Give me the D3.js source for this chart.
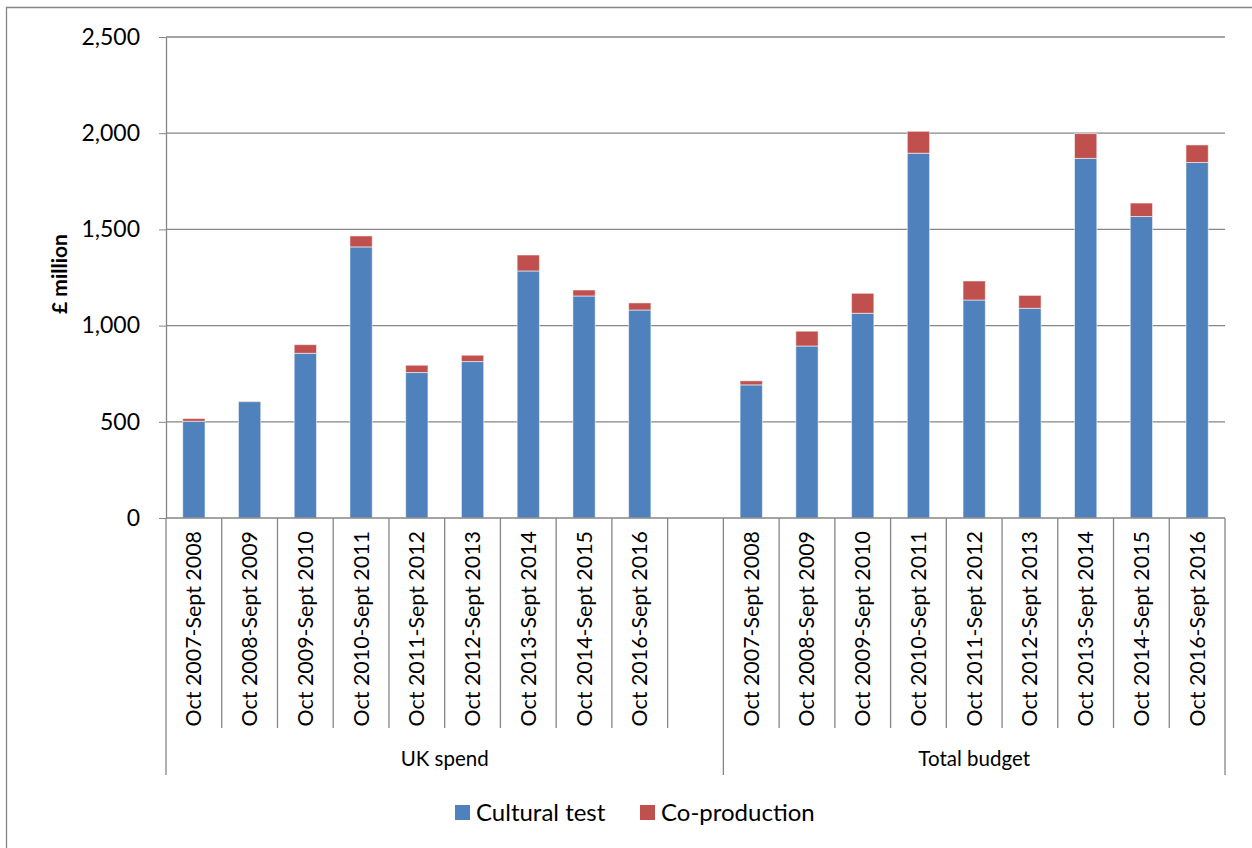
<!DOCTYPE html>
<html lang="en">
<head>
<meta charset="utf-8">
<style>
  body { margin: 0; background: white; }
  svg { font-family: Lato, "Open Sans", sans-serif; }
  .axis path, .axis line { stroke: #868686; }
  .axis text { fill: black; }
  .grid line { stroke: #868686; stroke-width: 1.3px; }
</style>
</head>
<body>
<svg width="1252" height="848"></svg>
<script src="https://d3js.org/d3.v7.min.js"></script>
<script>
  const periods = ["Oct 2007-Sept 2008", "Oct 2008-Sept 2009", "Oct 2009-Sept 2010",
    "Oct 2010-Sept 2011", "Oct 2011-Sept 2012", "Oct 2012-Sept 2013",
    "Oct 2013-Sept 2014", "Oct 2014-Sept 2015", "Oct 2016-Sept 2016"]
  const groups = ["UK spend", "Total budget"]
  const seriesNames = ["Cultural test", "Co-production"]
  const ukCultural = [503, 605, 856, 1409, 756, 813, 1284, 1154, 1081]
  const ukCoprod = [14, 2, 45, 57, 38, 33, 83, 31, 37]
  const totalCultural = [692, 894, 1064, 1896, 1133, 1090, 1869, 1567, 1848]
  const totalCoprod = [21, 77, 104, 114, 99, 67, 129, 70, 91]
  const yTicks = [0, 500, 1000, 1500, 2000, 2500]
  const colors = ["#4F81BD", "#C0504D"]

  const svg = d3.select("svg")
  const plotLeft = 166, plotRight = 1225, plotTop = 37, plotBottom = 518

  // one slot per bar, plus an empty slot between the two groups
  const rows = []
  periods.forEach((p, i) => rows.push({ key: "uk" + i, group: 0, label: p, vals: [ukCultural[i], ukCoprod[i]] }))
  rows.push({ key: "gap", group: -1, label: "", vals: [0, 0] })
  periods.forEach((p, i) => rows.push({ key: "tb" + i, group: 1, label: p, vals: [totalCultural[i], totalCoprod[i]] }))

  const x = d3.scaleBand().domain(rows.map(d => d.key)).range([plotLeft, plotRight]).padding(0)
  const y = d3.scaleLinear().domain([0, 2500]).range([plotBottom, plotTop])

  // outer frame
  svg.append("path")
    .attr("d", "M6.5,848 V7.5 H1252")
    .attr("fill", "none").attr("stroke", "#868686").attr("stroke-width", 1.3)

  // gridlines
  svg.append("g").attr("class", "grid")
    .selectAll("line").data(yTicks.filter(d => d > 0)).join("line")
    .attr("x1", plotLeft).attr("x2", plotRight)
    .attr("y1", d => y(d)).attr("y2", d => y(d))

  // stacked bars
  const stack = d3.stack().keys([0, 1]).value((d, k) => d.vals[k])
  const layers = stack(rows.filter(d => d.group >= 0))
  const bw = x.bandwidth() * 0.4
  svg.append("g").selectAll("g").data(layers).join("g")
    .attr("fill", (d, i) => colors[i])
    .selectAll("rect").data(d => d).join("rect")
    .attr("x", d => x(d.data.key) + (x.bandwidth() - bw) / 2)
    .attr("width", bw)
    .attr("y", d => y(d[1]))
    .attr("height", d => y(d[0]) - y(d[1]))
    .attr("stroke", "rgba(255,255,255,0.55)").attr("stroke-width", 1)

  // y axis
  svg.append("g").attr("class", "axis")
    .attr("transform", `translate(${plotLeft},0)`)
    .call(d3.axisLeft(y).tickValues(yTicks).tickFormat(d3.format(",")).tickSize(7).tickPadding(19).tickSizeOuter(0))
    .call(g => g.select(".domain").attr("stroke-width", 1.3))
    .call(g => g.selectAll("text").attr("font-size", 23).attr("font-family", "Lato"))

  svg.append("text")
    .attr("transform", `translate(67,274) rotate(-90)`)
    .attr("text-anchor", "middle").attr("font-weight", "bold").attr("font-size", 21)
    .text("£ million")

  // x axis line and slot separators
  const xa = svg.append("g").attr("class", "axis")
  xa.append("line").attr("x1", plotLeft).attr("x2", plotRight).attr("y1", plotBottom).attr("y2", plotBottom).attr("stroke-width", 1.3)
  const bounds = d3.range(rows.length + 1)
  xa.selectAll("line.sep").data(bounds).join("line").attr("class", "sep")
    .attr("x1", i => plotLeft + i * x.step()).attr("x2", i => plotLeft + i * x.step())
    .attr("y1", plotBottom)
    .attr("y2", i => (i === 0 || i === 10 || i === rows.length) ? 775 : 728)
    .attr("stroke-width", 1.3)

  // category labels
  xa.selectAll("text.cat").data(rows.filter(d => d.label)).join("text").attr("class", "cat")
    .attr("transform", d => `translate(${x(d.key) + x.bandwidth() / 2 + 7.5},531) rotate(-90)`)
    .attr("text-anchor", "end").attr("font-size", 21.4)
    .text(d => d.label)

  // group labels
  const groupSpans = [[0, 10], [10, 19]]
  xa.selectAll("text.grp").data(groups).join("text").attr("class", "grp")
    .attr("x", (d, i) => plotLeft + (groupSpans[i][0] + groupSpans[i][1]) / 2 * x.step())
    .attr("y", 766).attr("text-anchor", "middle").attr("font-size", 20.5)
    .text(d => d)

  // legend
  const legend = svg.append("g").attr("transform", "translate(455,0)")
  const legendX = [0, 185]
  seriesNames.forEach((name, i) => {
    legend.append("rect").attr("x", legendX[i]).attr("y", 805).attr("width", 15).attr("height", 15).attr("fill", colors[i])
    legend.append("text").attr("x", legendX[i] + 21).attr("y", 821).attr("font-size", 24).text(name)
  })
</script>
</body>
</html>
